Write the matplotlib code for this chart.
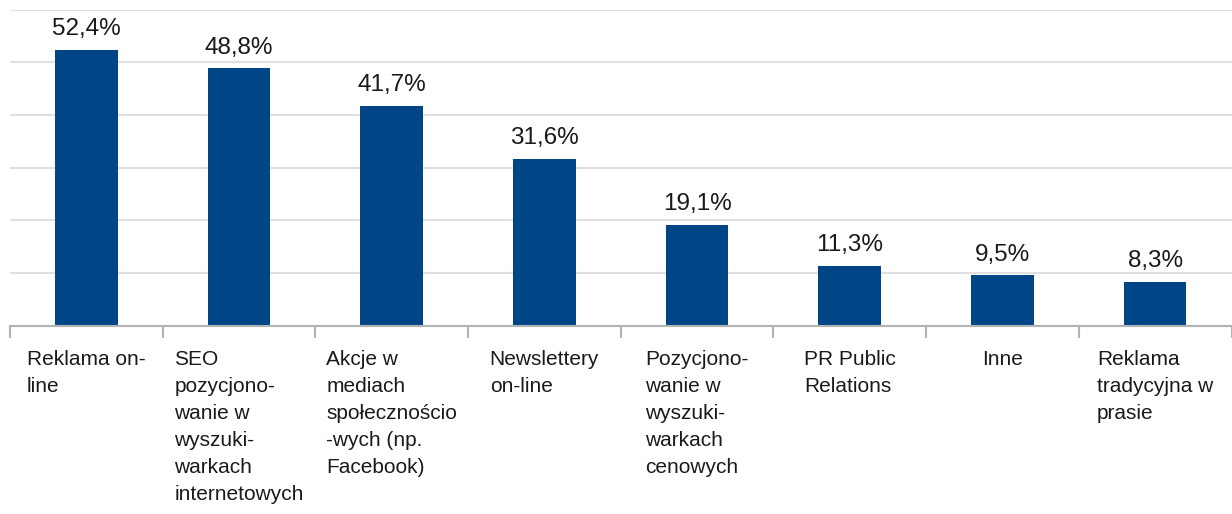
import matplotlib
matplotlib.use("Agg")
import matplotlib.pyplot as plt
import numpy as np

categories = [
    "Reklama on-\nline",
    "SEO\npozycjono-\nwanie w\nwyszuki-\nwarkach\ninternetowych",
    "Akcje w\nmediach\nspołecznościo\n-wych (np.\nFacebook)",
    "Newslettery\non-line",
    "Pozycjono-\nwanie w\nwyszuki-\nwarkach\ncenowych",
    "PR Public\nRelations",
    "Inne",
    "Reklama\ntradycyjna w\nprasie",
]
values = [52.4, 48.8, 41.7, 31.6, 19.1, 11.3, 9.5, 8.3]
value_labels = ["52,4%", "48,8%", "41,7%", "31,6%", "19,1%", "11,3%", "9,5%", "8,3%"]

plt.rcParams["font.family"] = ["Liberation Sans", "DejaVu Sans"]

W, H = 1232, 514
fig = plt.figure(figsize=(W / 100, H / 100), dpi=100)
left_px, right_px = 10, 1231.5
bottom_px, top_px = 325.5, 9.5
ax = fig.add_axes([left_px / W, 1 - bottom_px / H,
                   (right_px - left_px) / W, (bottom_px - top_px) / H])

x = np.arange(len(categories))
bar_color = "#004586"
ax.bar(x, values, width=0.41, color=bar_color, zorder=3)

for xi, v, lab in zip(x, values, value_labels):
    ax.annotate(lab, (xi, v), xytext=(0, 7), textcoords="offset points",
                ha="center", va="bottom", fontsize=17.5, color="#1a1a1a")

ax.set_xlim(-0.5, len(categories) - 0.5)
ax.set_ylim(0, 60)
ax.set_yticks(np.arange(0, 61, 10))
ax.yaxis.grid(True, color="#e0e0e0", linewidth=1.5, zorder=0)
ax.tick_params(axis="y", left=False, labelleft=False)

# boundary ticks between categories, labels at category centres
ax.set_xticks(np.arange(-0.5, len(categories), 1.0))
ax.set_xticklabels([])
ax.tick_params(axis="x", which="major", direction="out", length=8.5,
               width=1.5, color="#b3b3b3")
ax.set_xticks(x, minor=True)
ax.set_xticklabels(categories, minor=True, fontsize=15, color="#1a1a1a",
                   linespacing=1.54, multialignment="left")
ax.tick_params(axis="x", which="minor", length=0, pad=17.5)

for s in ["top", "right", "left"]:
    ax.spines[s].set_visible(False)
ax.spines["bottom"].set_color("#b3b3b3")
ax.spines["bottom"].set_linewidth(1.5)
ax.spines["bottom"].set_zorder(4)

fig.savefig("out.png", dpi=100)
